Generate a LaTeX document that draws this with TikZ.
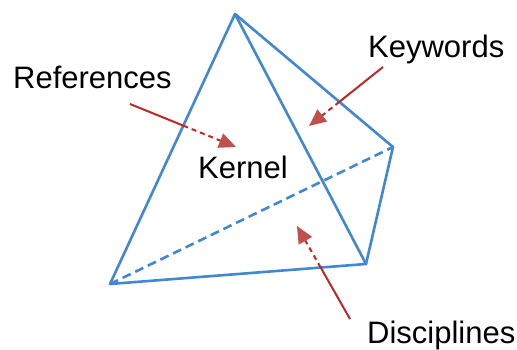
\documentclass[tikz,border=0pt]{standalone}
\usepackage{fontspec}
\setmainfont{Liberation Sans}
\usetikzlibrary{arrows.meta}
\definecolor{edgeblue}{RGB}{66,135,209}
\definecolor{arrowred}{RGB}{190,40,40}
\definecolor{headred}{RGB}{192,80,77}
\tikzset{edge/.style={edgeblue,line width=2.6pt,line join=round,line cap=round},
            hidden/.style={edgeblue,line width=2.6pt,dash pattern=on 9pt off 5pt},
            pointer/.style={arrowred,line width=2pt},
            behind/.style={pointer,dash pattern=on 5pt off 4pt,
                -{Triangle[length=17pt,width=15pt,color=headred]}},
            label/.style={font=\fontsize{31}{37}\selectfont,anchor=base west,inner sep=0pt},
            }

\begin{document}
\begin{tikzpicture}[x=1pt,y=-1pt]
    \useasboundingbox (0,0) rectangle (517,349);

    % corners of the tetrahedron
    \coordinate (top) at (235,14);
    \coordinate (left) at (110,284);
    \coordinate (low) at (366,264);
    \coordinate (right) at (393,147);

    \draw[hidden] (left) -- (right);
    \draw[edge] (left) -- (top) -- (low) -- cycle;
    \draw[edge] (top) -- (right) -- (low);

    % labels
    \node[label] (kernel) at (198,178) {Kernel};
    \node[label] (refs) at (13,88) {References};
    \node[label] (kw) at (368,57) {Keywords};
    \node[label] (disc) at (367,343) {Disciplines};

    % arrow ends
    \coordinate (refs tail) at (130,104);
    \coordinate (refs head) at (236,147);
    \coordinate (kw tail) at (383,67);
    \coordinate (kw head) at (309,126);
    \coordinate (disc tail) at (350,319);
    \coordinate (disc head) at (297,226);

    \coordinate (refs cross) at (intersection of refs tail--refs head and top--left);
    \coordinate (kw cross) at (intersection of kw tail--kw head and top--right);
    \coordinate (disc cross) at (intersection of disc tail--disc head and left--low);

    \draw[pointer] (refs tail) -- (refs cross);
    \draw[behind] (refs cross) -- (refs head);
    \draw[pointer] (kw tail) -- (kw cross);
    \draw[behind] (kw cross) -- (kw head);
    \draw[pointer] (disc tail) -- (disc cross);
    \draw[behind] (disc cross) -- (disc head);

\end{tikzpicture}
\end{document}
